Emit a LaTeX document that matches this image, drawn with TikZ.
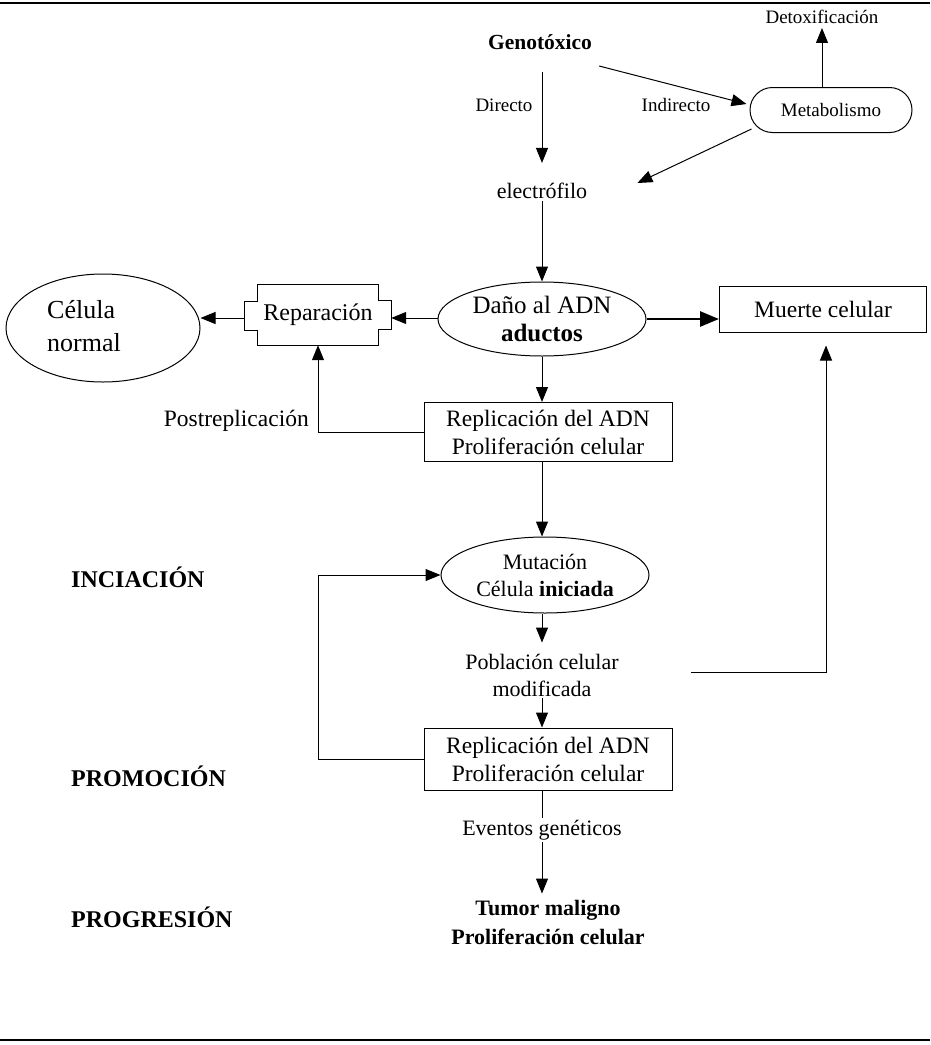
\documentclass[tikz,border=0pt]{standalone}
\usepackage{fontspec}
\setmainfont{Liberation Serif}
\usetikzlibrary{shapes.geometric,arrows.meta,calc}
\begin{document}
\begin{tikzpicture}[x=1pt,y=-1pt,
  every node/.style={inner sep=2pt},
  txt/.style={font=\fontsize{22}{27}\selectfont, align=center},
  btxt/.style={font=\fontsize{23.5}{28}\selectfont, align=center},
  sml/.style={font=\fontsize{19}{22}\selectfont},
  stage/.style={font=\bfseries\fontsize{24}{28}\selectfont, anchor=west},
  boxn/.style={draw, line width=1pt, btxt},
  ell/.style={draw, ellipse, line width=1pt, txt, inner sep=0pt},
  arr/.style={line width=1pt, -{Triangle[length=15pt,width=12pt]}},
  ln/.style={line width=1pt}]
\useasboundingbox (0,0) rectangle (930,1045);
% rules
\draw[line width=1.6pt] (0,3) -- (930,3);
\draw[line width=1.6pt] (0,1040) -- (930,1040);

\node[font=\bfseries\fontsize{21.5}{25}\selectfont] (geno) at (540,42) {Genotóxico};
\node[sml] (detox) at (822,17) {Detoxificación};
\node[draw, line width=1pt, rounded corners=22.5pt, minimum width=162pt, minimum height=45pt, sml] (meta) at (831,110) {Metabolismo};
\node[sml] (directo) at (504,105) {Directo};
\node[sml] (indirecto) at (676,105) {Indirecto};
\node[txt] (elec) at (542,191) {electrófilo};

\draw[arr] (meta.north -| detox) -- ([shift={(0,2)}]detox.south);
\draw[arr] ([shift={(5,24)}]geno.east) -- ([shift={(-3,-6)}]meta.west);
\draw[arr] ([shift={(0,20)}]geno.south -| elec) -- ([shift={(0,-18)}]elec.north);
\draw[arr] ([shift={(2,-4)}]meta.south west) -- ([shift={(48,-8)}]elec.east);

\node[ell, minimum width=208pt, minimum height=74pt, font=\fontsize{25}{28}\selectfont] (dano) at (542,319) {Daño al ADN\\\textbf{aductos}};
\draw[arr] (elec.south) -- (dano.north);

% Reparacion
\node[btxt, font=\fontsize{24}{28}\selectfont, minimum width=120pt, minimum height=60pt] (rep) at (318,315) {\raisebox{3pt}{Reparación}};
\draw[ln] (rep.north west) -- (rep.north east) -- ++(0,16) -- ++(13,0) -- ++(0,29) -- ++(-13,0)
  -- (rep.south east) -- (rep.south west) -- ++(0,-15) -- ++(-13,0) -- ++(0,-29) -- ++(13,0) -- cycle;
\coordinate (repR) at ([shift={(13,3)}]rep.east);
\coordinate (repL) at ([shift={(-13,3)}]rep.west);

\node[draw, ellipse, line width=1pt, minimum width=194pt, minimum height=108pt] (celn) at (103,328) {};
\node[font=\fontsize{26}{33}\selectfont, align=left, anchor=west] (celntxt) at (45,326) {Célula\\normal};

\draw[arr] (dano.west |- repR) -- (repR);
\draw[arr] (repL) -- (celn.east |- repL);

\node[boxn, minimum width=207pt, minimum height=46pt] (muerte) at (823,309) {Muerte celular};
\draw[line width=2.8pt, -{Triangle[length=19pt,width=15pt]}] (dano.east) -- (dano.east -| muerte.west);

\node[boxn, minimum width=248pt, minimum height=59pt] (rep1) at (548,432) {Replicación del ADN\\Proliferación celular};
\draw[arr] (dano.south) -- (dano.south |- rep1.north);
\draw[arr] (rep1.west) -| (rep.south);
\node[btxt, font=\fontsize{23.5}{28}\selectfont, anchor=east] (post) at (311,421) {Postreplicación};

\node[ell, minimum width=208pt, minimum height=76pt] (mut) at (545,575) {Mutación\\Célula \textbf{iniciada}};
\draw[arr] (dano.south |- rep1.south) -- (dano.south |- mut.north);

\node[txt] (pob) at (542,675) {Población celular\\modificada};
\draw[arr] (dano.south |- mut.south) -- ([shift={(0,-9)}]pob.north);
\draw[arr] ([shift={(70,-3)}]pob.east) -| ([shift={(3,13)}]muerte.south);

\node[boxn, minimum width=248pt, minimum height=62pt] (rep2) at (548,759) {Replicación del ADN\\Proliferación celular};
\draw[arr] (dano.south |- pob.south) -- (dano.south |- rep2.north);
\draw[arr] (rep2.west) -- ++(-105,0) |- (mut.west);

\node[txt] (evento) at (542,830) {Eventos genéticos};
\draw[ln] (dano.south |- rep2.south) -- (evento.north);
\node[font=\bfseries\fontsize{22}{29}\selectfont, align=center] (tumor) at (548,922) {Tumor maligno\\Proliferación celular};
\draw[arr] (evento.south) -- ([shift={(0,-4)}]tumor.north -| evento);

\node[stage] (ini) at (69,577) {INCIACIÓN};
\node[stage] (promo) at (69,776) {PROMOCIÓN};
\node[stage] (prog) at (69,917) {PROGRESIÓN};
\end{tikzpicture}
\end{document}
